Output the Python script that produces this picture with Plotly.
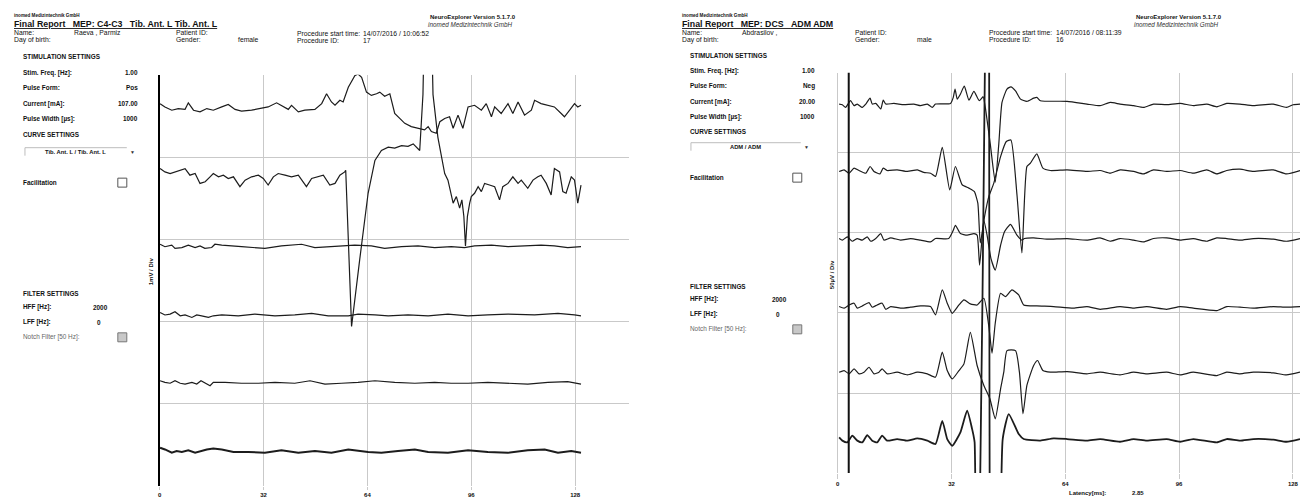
import numpy as np
import plotly.graph_objects as go

W, H = 1300, 498
FONT = "Liberation Sans, Arial, sans-serif"

# ---------------- DATA ----------------
ticks_ms = [0, 32, 64, 96, 128]
channel_offsets_div = [4.61, 3.78, 2.93, 2.08, 1.26, 0.425]

# Left recording (mV), 1 mV / Div
L1_t = [0.1,1.6,3.7,5.7,7.8,8.8,10.4,12.4,14.5,16.5,19.1,21.1,23.2,25.2,28.3,31.4,33.4,36.0,38.1,39.6,40.6,42.7,44.7,47.8,49.9,51.4,52.9,54.0,55.5,56.5,58.1,60.1,61.1,62.2,63.7,65.2,66.8,67.8,69.3,70.9,72.4,74.0,75.5,77.5,79.6,81.6,82.7,83.7,85.2,86.3,87.8,89.3,90.4,91.9,93.4,95.0,97.0,99.1,100.6,102.2,103.2,105.2,107.3,108.8,110.4,112.4,114.5,115.5,117.5,119.6,121.6,123.7,124.7,126.3,127.8,128.8,129.8]
L1_v = [0.04,0.0,-0.04,-0.02,-0.03,0.05,-0.04,-0.06,-0.02,-0.04,0.0,0.03,-0.03,-0.05,-0.04,-0.02,0.0,0.05,0.0,-0.03,0.02,-0.06,-0.04,-0.03,0.04,0.16,0.06,0.02,0.08,0.06,0.24,0.38,0.40,0.36,0.18,0.14,0.16,0.18,0.13,0.16,-0.08,-0.14,-0.20,-0.24,-0.26,-0.28,-0.24,-0.30,-0.32,-0.18,-0.14,-0.12,-0.26,-0.10,-0.26,0.0,0.02,-0.04,0.04,-0.12,0.0,-0.08,0.04,-0.08,0.06,-0.10,-0.04,0.08,0.04,0.02,0.0,-0.08,-0.12,-0.04,0.04,0.0,0.02]

L2_t = [0.1,1.6,3.2,4.7,6.3,7.8,9.3,10.9,12.4,14.0,15.5,16.5,18.1,19.6,21.1,22.7,24.7,26.3,28.3,30.4,31.9,33.4,35.0,36.5,38.6,40.6,42.7,45.2,46.8,48.8,50.4,52.4,54.0,55.5,57.0,57.3,59.1,61.6,64.2,66.3,68.3,70.4,72.4,74.5,76.5,78.1,80.1,81.1,81.9,83.3,84.2,85.7,86.8,87.8,88.8,89.8,90.4,91.4,92.4,93.1,93.7,94.2,94.8,95.5,96.0,97.0,98.1,99.1,100.1,101.6,103.2,104.7,105.7,107.3,108.8,110.4,111.4,113.4,115.0,116.5,117.5,119.1,120.6,121.6,123.2,124.2,125.2,126.8,127.8,128.8,129.8]
L2_v = [0.08,0.04,0.02,0.04,0.06,0.08,0.0,0.02,-0.10,-0.08,-0.02,0.02,-0.02,0.0,-0.04,-0.02,-0.14,-0.06,-0.02,0.0,-0.04,-0.12,-0.02,0.02,0.0,-0.02,0.0,-0.14,-0.04,-0.02,0.0,-0.12,-0.10,0.0,0.04,0.06,-1.84,-1.03,-0.22,0.18,0.30,0.34,0.33,0.36,0.35,0.38,0.30,0.98,2.6,2.6,0.98,0.46,0.22,0.02,-0.06,-0.22,-0.34,-0.26,-0.40,-0.30,-0.50,-0.86,-0.50,-0.34,-0.26,-0.22,-0.14,-0.20,-0.10,-0.12,-0.14,-0.30,-0.14,-0.10,-0.02,-0.10,-0.06,-0.16,-0.06,-0.02,0.0,-0.10,-0.24,0.08,0.04,-0.20,-0.22,-0.02,-0.06,-0.34,-0.12]

L3_t = [0.1,1.6,3.7,4.7,6.8,8.8,10.9,12.4,13.9,16.0,17.0,19.1,25.2,32.4,37.5,43.7,47.8,51.9,56.0,60.1,65.2,69.3,74.5,79.6,84.7,89.8,93.9,97.0,102.2,107.3,112.4,117.5,121.6,125.7,129.8]
L3_v = [0.01,-0.02,0.0,-0.04,-0.03,0.0,-0.03,-0.01,-0.04,-0.03,0.01,0.0,-0.02,-0.04,-0.01,0.01,-0.03,-0.02,-0.01,0.0,-0.01,-0.04,-0.02,-0.01,-0.03,-0.02,-0.03,-0.01,0.0,-0.02,-0.01,0.0,-0.01,-0.03,-0.02]

L4_t = [0.1,1.6,3.2,4.7,6.3,7.8,9.9,11.4,12.9,15.0,16.5,19.1,24.2,29.3,35.5,41.6,46.8,51.9,58.1,61.1,66.3,70.4,76.5,82.7,88.8,95.0,101.1,107.3,115.5,122.7,127.8,129.8]
L4_v = [0.03,0.0,0.01,0.04,-0.01,0.0,-0.03,0.0,-0.01,-0.03,-0.01,0.0,-0.01,0.01,-0.01,0.0,0.02,-0.01,-0.01,0.01,0.0,-0.01,0.0,-0.01,0.01,-0.01,0.0,0.01,0.0,0.02,0.0,-0.01]

L5_t = [0.1,1.6,3.2,4.7,6.3,7.8,9.9,11.4,12.7,13.9,15.5,16.5,20.1,25.2,30.4,35.5,41.6,46.3,50.9,56.0,61.1,66.3,72.4,78.6,84.7,89.8,95.0,101.1,107.3,113.4,119.6,125.7,129.8]
L5_v = [0.02,0.0,-0.01,0.02,-0.01,-0.02,0.0,-0.02,0.02,-0.01,-0.04,0.0,0.0,-0.01,-0.01,0.0,-0.01,0.02,-0.02,-0.01,0.0,0.02,0.0,-0.01,0.0,-0.01,-0.01,0.0,-0.01,-0.02,0.0,0.01,-0.02]

L6_t = [0.1,1.6,3.7,5.2,6.8,8.8,10.9,12.4,14.5,16.5,19.1,22.7,27.3,32.4,37.5,42.7,47.8,52.9,58.1,64.2,68.3,73.4,78.6,82.7,88.8,95.0,101.1,107.3,113.4,118.6,122.7,126.8,129.8]
L6_v = [0.04,0.02,-0.02,0.0,-0.01,0.01,-0.02,0.0,0.02,0.03,0.02,-0.01,-0.01,-0.02,0.01,-0.02,0.0,-0.02,0.02,-0.01,-0.02,0.0,0.02,-0.01,-0.02,0.01,-0.01,-0.02,0.01,0.02,-0.02,0.0,-0.02]

# Right recording (µV), 50 µV / Div
R1_t = [0.4,1.3,2.2,3.6,4.6,5.5,6.9,7.9,9.1,9.7,10.7,12.1,12.8,13.5,15.8,18.6,21.4,23.3,25.2,26.6,27.5,31.7,32.5,33.0,33.6,34.5,35.6,36.9,38.3,39.8,40.9,41.5,42.9,44.3,45.3,46.2,47.6,48.7,50.0,51.4,53.2,55.1,56.0,57.0,64.5,70.1,73.8,76.6,79.4,83.2,86.0,88.8,92.5,96.3,100.0,103.8,106.6,109.4,113.1,116.9,122.5,126.2,128.1,130.0]
R1_v = [0,-0.4,-2.1,2.1,-1.0,0,-2.1,0,3.7,0,0.4,-3.1,2.5,0,0.4,-0.4,0,-1.0,0,-2.1,0,0.4,4.2,9.4,3.1,6.2,11.2,2.5,7.9,2.1,4.6,-2.1,-24.9,-48.8,-24.9,1.0,9.4,10.8,8.3,3.1,1.7,3.7,4.2,2.1,1.7,0,-1.0,1.0,0,-1.0,-2.1,0,-0.4,0.4,-1.0,0,-1.7,0.4,0,-1.0,0,-2.1,-0.4,0]

R2_t = [0.4,1.8,3.2,4.6,6.0,7.9,9.1,10.2,11.9,12.8,13.9,16.7,19.6,22.4,24.2,26.1,27.5,29.4,31.5,33.1,35.0,36.9,38.4,39.4,40.1,41.3,42.5,43.9,45.8,47.4,48.7,50.4,51.8,53.2,54.2,56.0,57.7,59.8,64.5,70.1,73.8,76.6,79.4,83.2,86.0,88.8,92.5,96.3,100.0,103.8,106.6,109.4,113.1,116.9,122.5,126.2,130.0]
R2_v = [-0.6,0.4,-1.7,1.5,0,-1.7,2.5,-0.6,-2.1,1.5,0,0.4,-0.6,0.4,-1.2,-1.7,-3.7,14.5,-12.1,2.5,-8.9,-11.0,-13.1,-20.4,-45.3,-28.7,-16.2,-7.9,8.7,18.1,19.1,-15.0,-51.5,2.5,4.6,10.4,1.5,0,0.4,-0.6,0,-1.7,0.4,-0.6,-2.1,0.4,-0.6,0,-1.7,0.4,-2.1,0,0.8,-0.6,0.4,-2.1,0]

R3_t = [0.4,1.3,2.7,4.1,5.5,6.9,8.3,9.3,10.7,12.1,13.0,14.9,17.7,20.5,23.3,26.1,27.5,31.2,32.5,33.1,34.5,36.4,38.3,39.2,39.9,41.1,42.0,43.1,44.3,45.8,46.9,48.6,50.4,51.8,52.5,55.1,58.8,64.5,70.1,73.8,76.6,79.4,83.2,86.0,88.8,92.5,96.3,100.0,103.8,106.6,109.4,113.1,116.9,122.5,126.2,130.0]
R3_v = [0,-1.0,1.0,-1.7,0,-1.0,1.0,-1.7,0,3.1,-1.0,0.4,-1.0,0,-1.0,-2.1,0,0,5.2,8.3,3.1,2.1,3.1,2.1,-16.6,11.4,2.1,-12.5,-19.7,-4.2,4.2,8.9,2.1,-1.0,0,0.4,-0.4,0,-1.0,0.4,-1.7,0,-1.0,-2.1,0,0.4,-1.0,0,-1.7,0.4,0,-1.0,0,-0.4,-1.7,0]

R4_t = [0.4,1.8,3.2,4.6,5.5,6.9,8.8,9.7,11.1,12.5,13.5,14.9,17.7,20.5,23.3,26.1,27.5,29.4,30.8,32.2,34.1,35.5,37.3,39.2,41.1,42.5,43.4,44.3,45.8,47.2,49.0,50.9,52.3,56.0,60.7,66.3,70.1,73.8,79.4,83.2,86.9,92.5,96.3,100.0,106.6,109.4,113.1,116.9,122.5,126.2,130.0]
R4_v = [0,-1.0,1.0,2.1,-1.0,0.4,2.5,-0.4,1.0,2.1,-1.7,0,-1.0,-0.4,0.4,0,-5.2,10.4,2.1,-4.2,1.0,4.2,1.7,1.0,5.2,-12.5,-29.1,-10.4,8.3,6.2,10.4,7.3,1.0,0.4,0,-1.0,0,-1.7,0,-1.0,0,-1.7,0,-1.0,-2.5,0,-0.4,-1.0,0,-0.4,0]

R5_t = [0.4,1.8,3.2,4.6,6.0,7.4,8.8,10.2,11.6,12.5,13.9,16.7,19.6,22.4,25.2,27.5,29.4,30.8,32.2,34.1,35.5,37.3,39.2,41.1,42.8,44.3,45.8,46.7,47.6,50.0,51.1,52.1,53.2,55.1,56.2,57.7,59.8,64.5,70.1,73.8,79.4,83.2,86.9,92.5,96.3,100.0,106.6,109.4,113.1,116.9,122.5,126.2,130.0]
R5_v = [0,1.0,-1.0,2.1,-1.0,0,3.1,-1.0,0,2.1,-1.0,0,-1.7,0,-1.0,-3.1,12.5,1.0,-4.2,1.0,5.2,24.9,4.2,-8.3,-16.6,-29.1,-10.4,0,13.5,13.5,0,-26.0,-8.3,4.2,7.3,1.0,0,0.4,-1.0,0,-1.7,0,-1.0,0,-1.7,0,-2.1,0,-1.0,0,-0.4,-1.7,0]

R6_t = [0.4,1.3,2.7,4.1,5.5,6.9,8.3,9.7,11.1,12.5,13.9,16.7,19.6,22.4,25.2,27.5,29.4,30.8,32.2,34.5,36.4,37.8,38.2,38.5,39.3,41.9,42.2,42.5,43.5,44.8,46.4,48.1,50.9,52.3,57.0,60.7,64.5,70.1,73.8,79.4,83.2,86.9,92.5,96.3,100.0,106.6,109.4,113.1,116.9,122.5,126.2,130.0]
R6_v = [1.0,-1.0,-2.1,2.1,-1.0,-2.1,2.5,-1.0,-2.1,2.1,-1.0,0,-1.0,0.4,-1.0,-3.1,11.4,0,-4.2,4.2,17.7,6.2,2.1,-2,-160,340,420,380,-300,-320,0,15.6,3.1,0,-1.0,0.4,0,-1.0,0,-1.7,0,-1.0,0,-1.7,0,-2.1,0,-1.0,0,-0.4,-1.7,0]

stimulus_marker_ms = 3.1
latency_ms = 2.85

left_traces = [(L1_t, L1_v), (L2_t, L2_v), (L3_t, L3_v), (L4_t, L4_v), (L5_t, L5_v), (L6_t, L6_v)]
right_traces = [(R1_t, R1_v), (R2_t, R2_v), (R3_t, R3_v), (R4_t, R4_v), (R5_t, R5_v), (R6_t, R6_v)]
left_scale = 1.0      # mV per division
right_scale = 50.0    # µV per division

# ---------------- FIGURE ----------------
def px(x):
    return x / W

def py(y):
    return 1 - y / H

fig = go.Figure()

LINE = "#1c1c1c"
for i, (t, v) in enumerate(left_traces):
    y = channel_offsets_div[i] + np.array(v) / left_scale
    fig.add_trace(go.Scatter(x=t, y=y, mode="lines", xaxis="x", yaxis="y",
                             line=dict(color=LINE, width=2.0 if i == 5 else 1.2),
                             showlegend=False, hoverinfo="skip"))
for i, (t, v) in enumerate(right_traces):
    y = channel_offsets_div[i] + np.array(v) / right_scale
    fig.add_trace(go.Scatter(x=t, y=y, mode="lines", xaxis="x2", yaxis="y2",
                             line=dict(color=LINE, width=1.8 if i == 5 else 1.2,
                                       shape="spline", smoothing=0.5),
                             showlegend=False, hoverinfo="skip"))

GRID = "#c9c9c9"
xcommon = dict(tickvals=ticks_ms, ticktext=[str(t) for t in ticks_ms], showgrid=True,
               gridcolor=GRID, gridwidth=1, zeroline=False, showline=False,
               ticks="outside", tickcolor=GRID, tickwidth=1,
               tickfont=dict(family=FONT, size=6, color="#111", weight="bold"))
ycommon = dict(range=[0, 5], tickvals=[1, 2, 3, 4, 5], showticklabels=False,
               showgrid=True, gridcolor=GRID, gridwidth=1, zeroline=False, ticks="")

fig.update_layout(
    width=W, height=H, margin=dict(l=0, r=0, t=0, b=0),
    paper_bgcolor="white", plot_bgcolor="white",
    xaxis=dict(domain=[px(158), px(628)], range=[0, 144.6], anchor="y", ticklen=3, **xcommon),
    yaxis=dict(domain=[py(487), py(75)], anchor="x", showline=True, linecolor="#000",
               linewidth=1.5, **ycommon),
    xaxis2=dict(domain=[px(837), 1.0], range=[0, 130.0], anchor="y2", ticklen=5, **xcommon),
    yaxis2=dict(domain=[py(474), py(73)], anchor="x2", showline=True, linecolor=GRID,
                linewidth=1, **ycommon),
)

# stimulus marker line (right)
fig.add_shape(type="line", xref="x2", yref="y2 domain", x0=stimulus_marker_ms, x1=stimulus_marker_ms,
              y0=0, y1=1, line=dict(color="#111", width=2))

ann = []

def txt(x, y, s, size=6.5, bold=False, italic=False, anchor="left", color="#111", angle=0):
    if bold:
        s = "<b>" + s + "</b>"
    if italic:
        s = "<i>" + s + "</i>"
    dx = {"left": -3, "right": 3, "center": 0}[anchor]
    ann.append(dict(x=px(x + dx), y=py(y), xref="paper", yref="paper", text=s, showarrow=False,
                    xanchor=anchor, yanchor="middle", textangle=angle,
                    font=dict(family=FONT, size=size, color=color)))

HS = 6.8   # header small text size
def header(x0, title, name, pid_x, gender, proc_x, date, proc_id, neuro_x, ny, py1, py2):
    txt(x0, 16, "inomed Medizintechnik GmbH", size=4.6, bold=True)
    txt(x0, 24.5, "<u>" + title + "</u>", size=8.8, bold=True)
    txt(x0, 33, "Name:", size=HS)
    txt(x0 + 60, 33, name, size=HS)
    txt(x0, 40, "Day of birth:", size=HS)
    txt(pid_x, 33, "Patient ID:", size=HS)
    txt(pid_x, 40, "Gender:", size=HS)
    txt(pid_x + 62, 40, gender, size=HS)
    txt(proc_x, py1, "Procedure start time:", size=HS)
    txt(proc_x + 67, py1, date, size=HS)
    txt(proc_x, py2, "Procedure ID:", size=HS)
    txt(proc_x + 67, py2, proc_id, size=HS)
    txt(neuro_x, ny, "NeuroExplorer Version 5.1.7.0", size=6, bold=True)
    txt(neuro_x - 2, ny + 7.5, "inomed Medizintechnik GmbH", size=6.3, italic=True, color="#333")

header(13, "Final Report&nbsp;&nbsp;&nbsp;MEP: C4-C3&nbsp;&nbsp;&nbsp;Tib. Ant. L Tib. Ant. L",
       "Raeva , Parmiz", 175, "female", 296, "14/07/2016 / 10:06:52", "17", 430, 17, 34, 41)
header(682, "Final Report&nbsp;&nbsp;&nbsp;MEP: DCS&nbsp;&nbsp;&nbsp;ADM ADM",
       "Abdrasilov ,", 855, "male", 990, "14/07/2016 / 08:11:39", "16", 1137, 17, 33, 40)

SS = 6.4   # sidebar text size
def sidebar(xl, xr, ys, values, curve, dd, hff_x, chk_x):
    (y_stim, y_f, y_p, y_c, y_w, y_cs, y_dd, y_fac, y_filt, y_h, y_l, y_n) = ys
    txt(xl, y_stim, "STIMULATION SETTINGS", size=SS, bold=True)
    for yy, lab, val in zip([y_f, y_p, y_c, y_w],
                            ["Stim. Freq. [Hz]:", "Pulse Form:", "Current [mA]:", "Pulse Width [µs]:"],
                            values):
        txt(xl, yy, lab, size=SS, bold=True)
        txt(xr, yy, val, size=SS, bold=True, anchor="right")
    txt(xl, y_cs, "CURVE SETTINGS", size=SS, bold=True)
    fig.add_shape(type="line", xref="paper", yref="paper", x0=px(dd[0]), x1=px(dd[1]),
                  y0=py(y_dd - 4), y1=py(y_dd - 4), line=dict(color="#bdbdbd", width=1))
    fig.add_shape(type="line", xref="paper", yref="paper", x0=px(dd[0]), x1=px(dd[0]),
                  y0=py(y_dd - 4), y1=py(y_dd + 4), line=dict(color="#bdbdbd", width=1))
    txt((dd[0] + dd[1]) / 2, y_dd, curve, size=5.8, bold=True, anchor="center")
    txt(dd[1] + 6, y_dd, "▼", size=5, anchor="center", color="#333")
    txt(xl, y_fac, "Facilitation", size=SS, bold=True)
    fig.add_shape(type="rect", xref="paper", yref="paper", x0=px(chk_x), x1=px(chk_x + 9),
                  y0=py(y_fac + 4.5), y1=py(y_fac - 4.5), line=dict(color="#555", width=1),
                  fillcolor="white")
    txt(xl, y_filt, "FILTER SETTINGS", size=SS, bold=True)
    txt(xl, y_h, "HFF [Hz]:", size=SS, bold=True)
    txt(hff_x, y_h, "2000", size=SS, bold=True, anchor="right")
    txt(xl, y_l, "LFF [Hz]:", size=SS, bold=True)
    txt(hff_x - 8, y_l, "0", size=SS, bold=True, anchor="center")
    txt(xl, y_n, "Notch Filter [50 Hz]:", size=SS, color="#666")
    fig.add_shape(type="rect", xref="paper", yref="paper", x0=px(chk_x), x1=px(chk_x + 9),
                  y0=py(y_n + 4.5), y1=py(y_n - 4.5), line=dict(color="#777", width=1),
                  fillcolor="#c8c8c8")

sidebar(22, 135, (57, 73, 88, 104, 119, 135, 152, 183, 294, 308, 323, 338),
        ["1.00", "Pos", "107.00", "1000"], "Tib. Ant. L / Tib. Ant. L", (23, 125), 105, 116)
sidebar(690, 813, (56, 71, 86, 102, 117, 132, 147, 178, 287, 300, 315, 330),
        ["1.00", "Neg", "20.00", "1000"], "ADM / ADM", (690, 800), 785, 792)

txt(150, 272, "1mV / Div", size=6, bold=True, anchor="center", angle=-90)
txt(832, 275, "50µV / Div", size=6, bold=True, anchor="center", angle=-90)
txt(1070, 494, "Latency[ms]:", size=6, bold=True)
txt(1133, 494, f"{latency_ms:.2f}", size=6, bold=True)

fig.update_layout(annotations=ann)
fig.write_html("out.html", config={"displayModeBar": False},
               post_script="document.body.style.margin='0';document.body.style.overflow='hidden';")
